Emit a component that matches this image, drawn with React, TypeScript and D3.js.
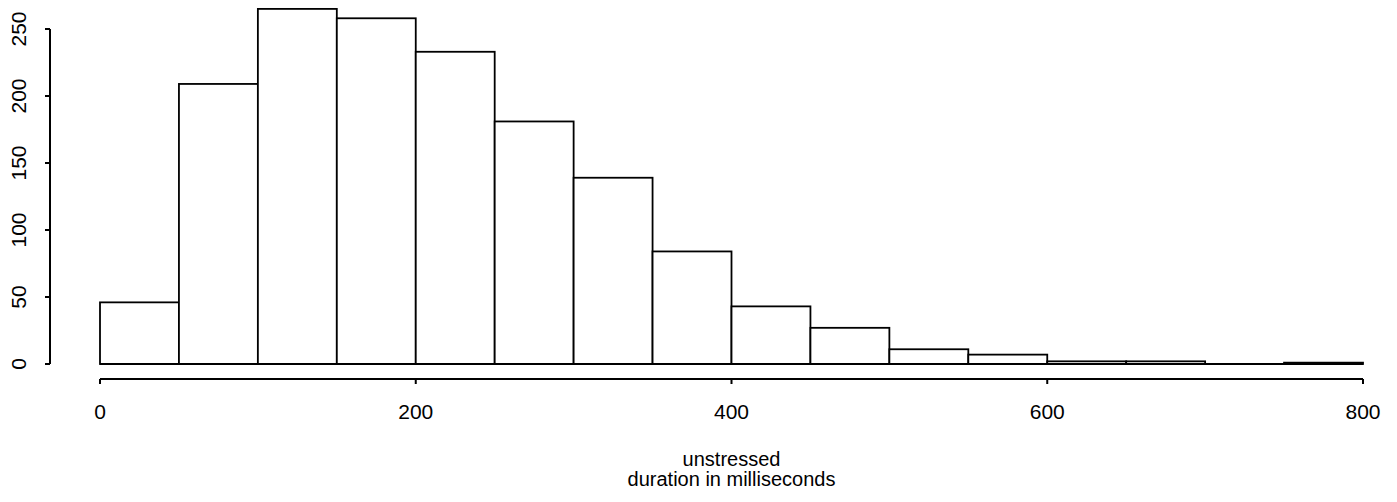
import React from "react";
import * as d3 from "d3";

// Histogram of unstressed syllable durations, 50 ms bins
const binStarts = [0, 50, 100, 150, 200, 250, 300, 350, 400, 450, 500, 550, 600, 650, 700, 750];
const binWidth = 50;
const counts = [46, 209, 265, 258, 233, 181, 139, 84, 43, 27, 11, 7, 2, 2, 0, 1];
const xTicks = [0, 200, 400, 600, 800];
const yTicks = [0, 50, 100, 150, 200, 250];
const subLabel = "unstressed";
const axisTitle = "duration in milliseconds";

const W = 1397;
const H = 502;

export default function App() {
  const x = d3.scaleLinear().domain([0, 800]).range([100, 1363]);
  const y = d3.scaleLinear().domain([0, 250]).range([364, 29]);
  const font = "'Liberation Sans', Arial, Helvetica, sans-serif";
  const xAxisY = 379;
  const yAxisX = 50;

  return (
    <svg
      width={W}
      height={H}
      style={{ position: "absolute", left: 0, top: 0, background: "#fff" }}
      fontFamily={font}
    >
      {/* bars */}
      <g stroke="#000" strokeWidth={1.8} fill="#fff">
        {binStarts.map((b, i) => (
          <rect
            key={b}
            x={x(b)}
            y={y(counts[i])}
            width={x(b + binWidth) - x(b)}
            height={y(0) - y(counts[i])}
          />
        ))}
      </g>
      <line x1={x(0)} x2={x(800)} y1={y(0)} y2={y(0)} stroke="#000" strokeWidth={1.8} />

      {/* y axis */}
      <g>
        <line x1={yAxisX} x2={yAxisX} y1={y(0)} y2={y(250)} stroke="#000" strokeWidth={2} />
        {yTicks.map((t) => (
          <g key={t}>
            <line x1={yAxisX - 5} x2={yAxisX} y1={y(t)} y2={y(t)} stroke="#000" strokeWidth={2} />
            <text
              transform={`translate(${26},${y(t)}) rotate(-90)`}
              textAnchor="middle"
              fontSize={21}
              fill="#000"
            >
              {t}
            </text>
          </g>
        ))}
      </g>

      {/* x axis */}
      <g>
        <line x1={x(0)} x2={x(800)} y1={xAxisY} y2={xAxisY} stroke="#000" strokeWidth={2} />
        {xTicks.map((t) => (
          <g key={t}>
            <line x1={x(t)} x2={x(t)} y1={xAxisY} y2={xAxisY + 5} stroke="#000" strokeWidth={2} />
            <text x={x(t)} y={419} textAnchor="middle" fontSize={21} fill="#000">
              {t}
            </text>
          </g>
        ))}
      </g>

      {/* axis title */}
      <text x={(x(0) + x(800)) / 2} y={466} textAnchor="middle" fontSize={20} fill="#000">
        {subLabel}
      </text>
      <text x={(x(0) + x(800)) / 2} y={486} textAnchor="middle" fontSize={20} fill="#000">
        {axisTitle}
      </text>
    </svg>
  );
}
